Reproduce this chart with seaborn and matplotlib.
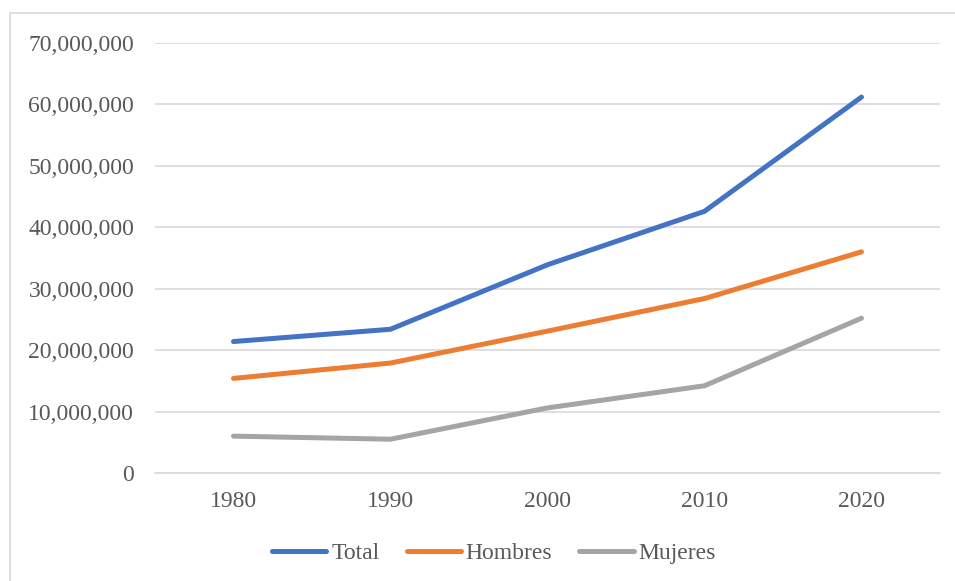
import matplotlib
matplotlib.use("Agg")
import matplotlib.pyplot as plt
import matplotlib.ticker as mticker
from matplotlib.patches import Rectangle
import seaborn as sns
import pandas as pd

years = ["1980", "1990", "2000", "2010", "2020"]
total = [21.4e6, 23.4e6, 33.9e6, 42.6e6, 61.2e6]
hombres = [15.4e6, 17.9e6, 23.1e6, 28.4e6, 36.0e6]
mujeres = [6.0e6, 5.5e6, 10.6e6, 14.2e6, 25.2e6]
series_names = ["Total", "Hombres", "Mujeres"]
colors = ["#4472C4", "#ED7D31", "#A5A5A5"]

rows = []
for name, vals in zip(series_names, [total, hombres, mujeres]):
    for y, v in zip(years, vals):
        rows.append({"Año": y, "Valor": v, "Serie": name})
df = pd.DataFrame(rows)

sns.set_theme(style="white")
plt.rcParams["font.family"] = ["Liberation Serif", "DejaVu Serif"]

fig = plt.figure(figsize=(9.55, 5.81), dpi=100)
ax = fig.add_axes([155/955, 1-473/581, (940-155)/955, (473-43)/581])

sns.lineplot(data=df, x="Año", y="Valor", hue="Serie", palette=colors,
             hue_order=series_names, linewidth=3.6, ax=ax, sort=False,
             solid_capstyle="round")

ax.set_xlim(-0.5, 4.5)
ax.set_ylim(0, 70e6)
ax.set_yticks([i * 10e6 for i in range(8)])
ax.yaxis.set_major_formatter(mticker.FuncFormatter(lambda v, p: f"{int(v):,}"))
ax.grid(axis="y", color="#D9D9D9", linewidth=1.2)
ax.set_axisbelow(True)
for s in ["top", "right", "left"]:
    ax.spines[s].set_visible(False)
ax.spines["bottom"].set_color("#D9D9D9")
ax.spines["bottom"].set_linewidth(1.2)
ax.tick_params(axis="both", length=0, labelsize=17, labelcolor="#595959")
ax.tick_params(axis="y", pad=15)
ax.tick_params(axis="x", pad=13)
ax.set_xlabel("")
ax.set_ylabel("")

handles, labels = ax.get_legend_handles_labels()
ax.legend(handles, labels, loc="center", bbox_to_anchor=(494/955, 1-553/581),
          bbox_transform=fig.transFigure, ncol=3, frameon=False,
          fontsize=17, labelcolor="#595959", handlelength=2.3,
          handletextpad=0.2, columnspacing=1.15)

fig.patches.append(Rectangle((10/955, -0.1), 1.1, 1 - 13/581 + 0.1,
                             transform=fig.transFigure, fill=False,
                             edgecolor="#D9D9D9", linewidth=1.2))

fig.savefig("out.png", dpi=100)
